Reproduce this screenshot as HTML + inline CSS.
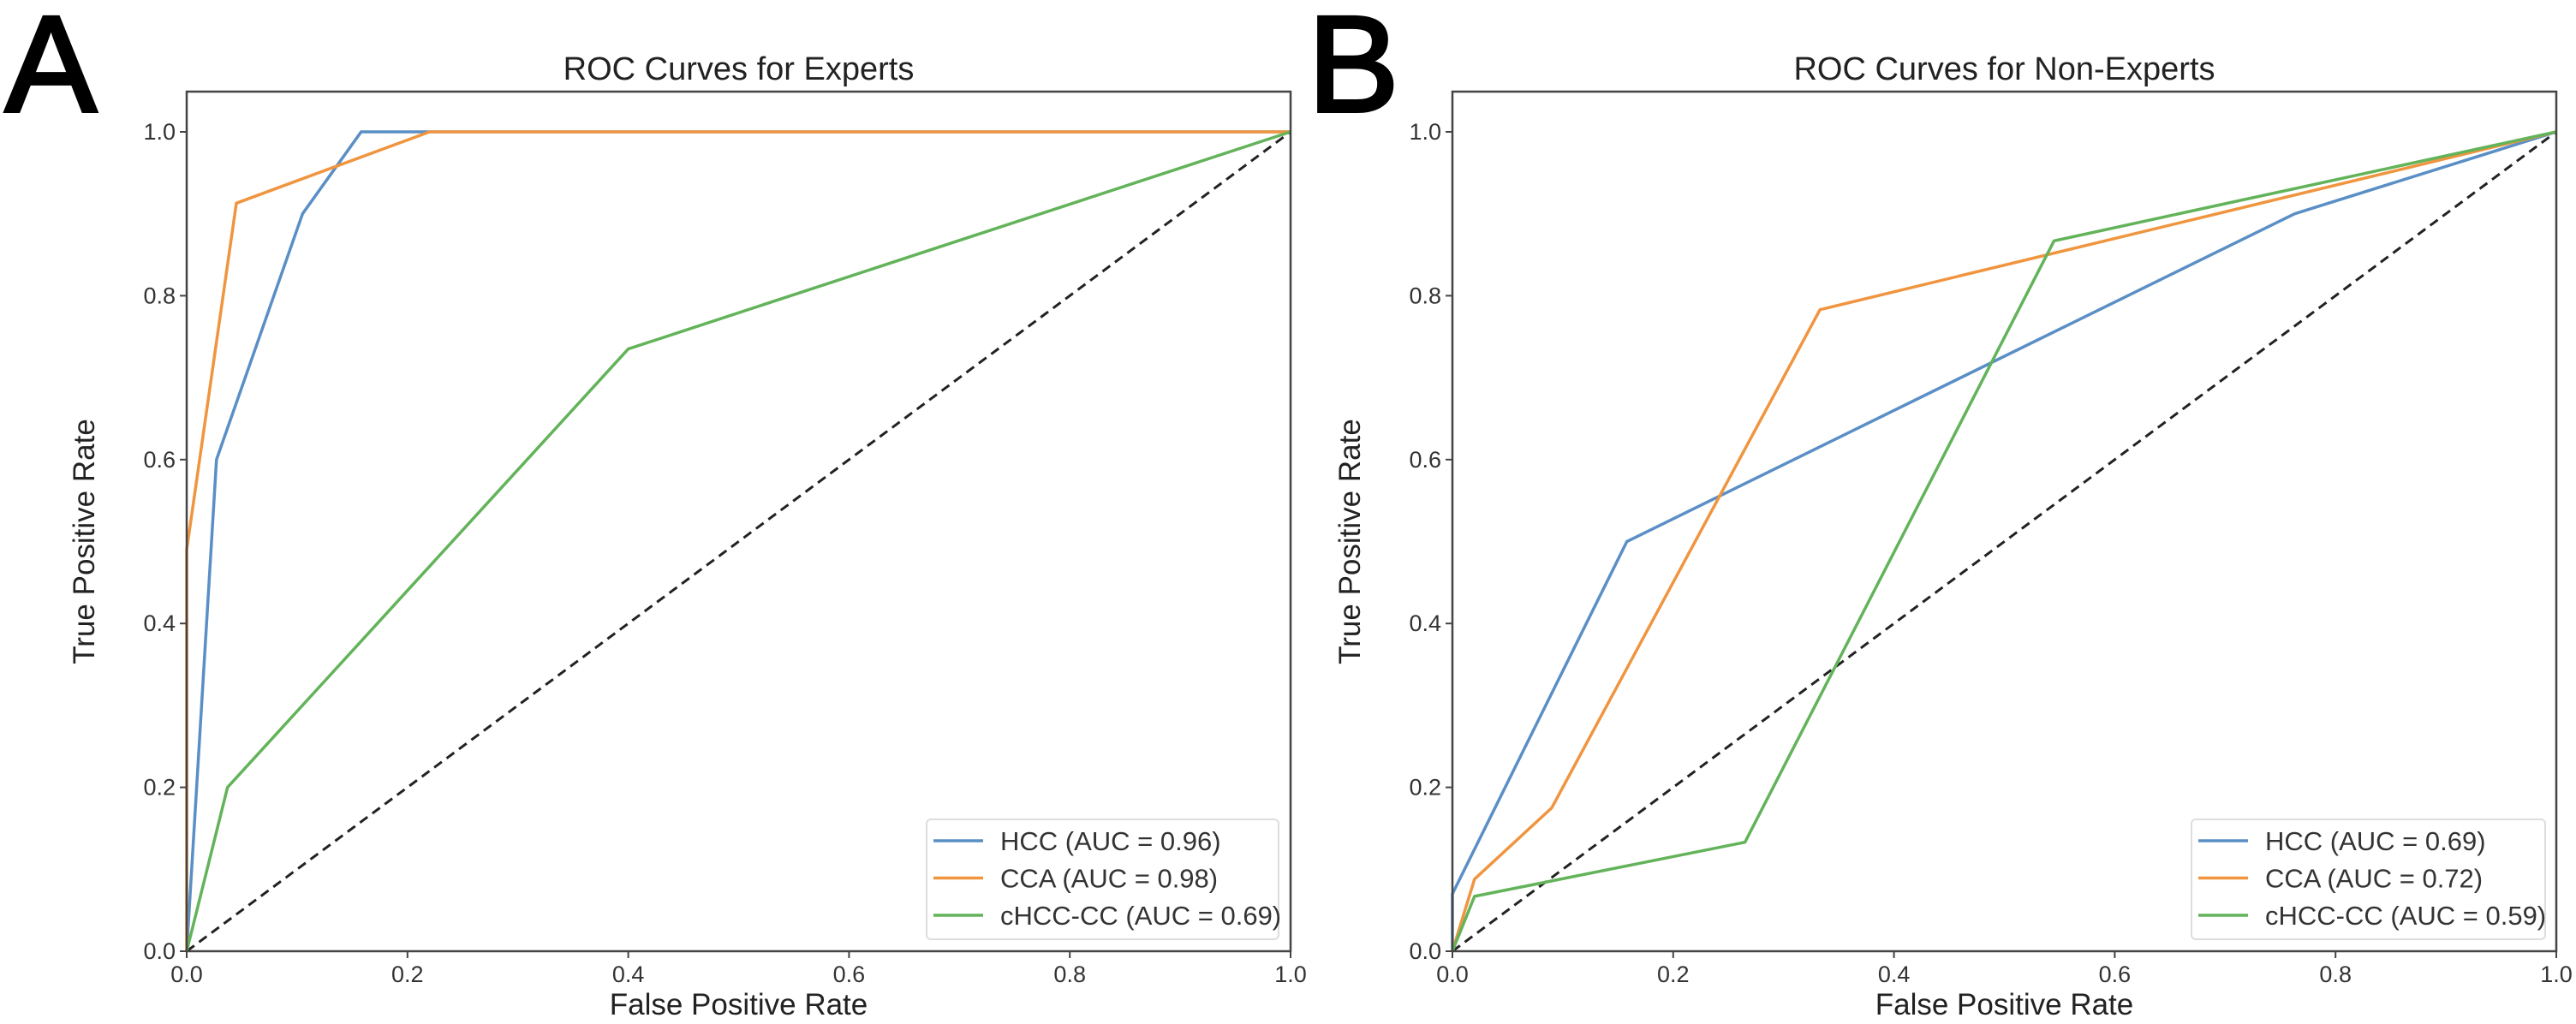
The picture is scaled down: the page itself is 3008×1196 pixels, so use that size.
<!DOCTYPE html>
<html><head><meta charset="utf-8"><style>
html,body{margin:0;padding:0;background:#fff;width:3008px;height:1196px;overflow:hidden}
svg{display:block;font-family:"Liberation Sans","DejaVu Sans",sans-serif}
</style></head><body>
<svg id="fig" width="3008" height="1196" viewBox="0 0 3008 1196" xmlns="http://www.w3.org/2000/svg"></svg>
<script>
const tickValues=[0,0.2,0.4,0.6,0.8,1.0];
const tickLabels=["0.0","0.2","0.4","0.6","0.8","1.0"];
const seriesNames=["HCC","CCA","cHCC-CC"];
const colors=["#5a8fc6","#f0953f","#63b35a"];
const expertsAUC=["0.96","0.98","0.69"];
const nonExpertsAUC=["0.69","0.72","0.59"];
const expHccX=[0,0.027,0.105,0.158,1];
const expHccY=[0,0.6,0.9,1,1];
const expCcaX=[0,0,0.045,0.22,1];
const expCcaY=[0,0.49,0.913,1,1];
const expMixX=[0,0.037,0.4,1];
const expMixY=[0,0.2,0.735,1];
const nonHccX=[0,0,0.158,0.763,1];
const nonHccY=[0,0.07,0.5,0.9,1];
const nonCcaX=[0,0.02,0.09,0.333,1];
const nonCcaY=[0,0.088,0.175,0.783,1];
const nonMixX=[0,0.02,0.265,0.545,1];
const nonMixY=[0,0.067,0.133,0.867,1];

const NS="http://www.w3.org/2000/svg";
const svg=document.getElementById('fig');
function mk(tag,attrs,parent){const e=document.createElementNS(NS,tag);for(const k in attrs)e.setAttribute(k,attrs[k]);(parent||svg).appendChild(e);return e;}

function panel(p){
  const g=mk('g',{});
  
  
  const X=v=>p.x0+v*(p.x1-p.x0);
  const Y=v=>p.y0-v*(p.y0-p.y1);
  const L=mk('text',{x:p.letterX,y:130,'font-size':160,fill:'#000',stroke:'#000','stroke-width':4},g);L.textContent=p.letter;
  
  
  const t=mk('text',{x:(p.x0+p.x1)/2,y:93,'font-size':38,'text-anchor':'middle',fill:'#222'},g);t.textContent=p.title;
  
  
  const d=mk('line',{x1:X(0),y1:Y(0),x2:X(1),y2:Y(1),stroke:'#222','stroke-width':3,'stroke-dasharray':'11,7'},g);
  
  
  p.series.forEach((s,i)=>{
    const pts=s[0].map((xv,j)=>X(xv).toFixed(1)+','+Y(s[1][j]).toFixed(1)).join(' ');
    const pl=mk('polyline',{points:pts,fill:'none',stroke:colors[i],'stroke-width':3.5,'stroke-linejoin':'round'},g);
    
    
  });
  const fr=mk('rect',{x:p.x0,y:p.yTop,width:p.x1-p.x0,height:p.y0-p.yTop,fill:'none',stroke:'#444','stroke-width':2.5},g);
  
  
  tickValues.forEach((v,i)=>{
    mk('line',{x1:X(v),y1:p.y0,x2:X(v),y2:p.y0+8,stroke:'#444','stroke-width':2},g);
    const tx=mk('text',{x:X(v),y:p.y0+36,'font-size':27,'text-anchor':'middle',fill:'#333'},g);tx.textContent=tickLabels[i];
    
    
    mk('line',{x1:p.x0-8,y1:Y(v),x2:p.x0,y2:Y(v),stroke:'#444','stroke-width':2},g);
    const ty=mk('text',{x:p.x0-13,y:Y(v)+9,'font-size':27,'text-anchor':'end',fill:'#333'},g);ty.textContent=tickLabels[i];
    
    
  });
  const xl=mk('text',{x:(p.x0+p.x1)/2,y:1185,'font-size':35,'text-anchor':'middle',fill:'#222'},g);xl.textContent='False Positive Rate';
  
  
  const yx=p.x0-108, yy=(p.y0+p.y1)/2;
  const yl=mk('text',{x:yx,y:yy,'font-size':35,'text-anchor':'middle',fill:'#222',transform:`rotate(-90 ${yx} ${yy})`},g);yl.textContent='True Positive Rate';
  
  
  const lg=mk('g',{},g);
  
  
  mk('rect',{x:p.legX,y:957,width:p.legW,height:140,rx:5,fill:'#fff',stroke:'#ddd','stroke-width':2},lg);
  p.auc.forEach((a,i)=>{
    const cy=982+i*43.5;
    mk('line',{x1:p.legX+8,y1:cy,x2:p.legX+66,y2:cy,stroke:colors[i],'stroke-width':3.5},lg);
    const et=mk('text',{x:p.legX+86,y:cy+11,'font-size':31,fill:'#333'},lg);et.textContent=seriesNames[i]+' (AUC = '+a+')';
    
    
  });
}
panel({id:'experts',letter:'A',letterX:6,title:'ROC Curves for Experts',x0:218,x1:1507,y0:1111,y1:154,yTop:107,
  series:[[expHccX,expHccY],[expCcaX,expCcaY],[expMixX,expMixY]],auc:expertsAUC,legX:1082,legW:411});
panel({id:'non-experts',letter:'B',letterX:1527,title:'ROC Curves for Non-Experts',x0:1696,x1:2985,y0:1111,y1:154,yTop:107,
  series:[[nonHccX,nonHccY],[nonCcaX,nonCcaY],[nonMixX,nonMixY]],auc:nonExpertsAUC,legX:2559,legW:413});
</script>
</body></html>
